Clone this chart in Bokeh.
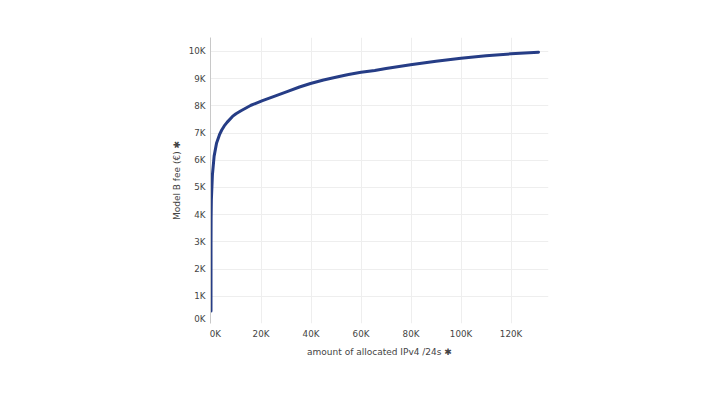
from bokeh.plotting import figure
from bokeh.models import FixedTicker, Range1d
from bokeh.embed import file_html
from bokeh.resources import INLINE

# amount of allocated IPv4 /24s
allocated = [1, 10, 50, 150, 560, 1250, 2200, 3400, 4300, 5300, 6500, 8600,
             10000, 12000, 16000, 20600, 25000, 30700, 35400, 39800, 45000,
             50800, 55000, 60000, 65500, 70000, 79800, 90000, 100000, 110000,
             120000, 131000]
# Model B fee in EUR
fee = [460, 2900, 3900, 4550, 5450, 6150, 6620, 6940, 7110, 7260, 7400, 7610,
       7710, 7820, 8020, 8190, 8340, 8530, 8690, 8820, 8950,
       9070, 9150, 9230, 9300, 9370, 9510, 9640, 9750, 9840,
       9910, 9970]

x_ticks = [0, 20000, 40000, 60000, 80000, 100000, 120000]
x_labels = ["0K", "20K", "40K", "60K", "80K", "100K", "120K"]
y_ticks = [1000, 2000, 3000, 4000, 5000, 6000, 7000, 8000, 9000, 10000]
y_labels = ["1K", "2K", "3K", "4K", "5K", "6K", "7K", "8K", "9K", "10K"]
x_zero_label_value = 1700
y_zero_label_value = 180
zero_label = "0K"

p = figure(width=704, height=389, output_backend="svg", toolbar_location=None,
           x_range=Range1d(-200, 135000), y_range=Range1d(0, 10510),
           min_border_left=210, min_border_right=156, min_border_top=37,
           min_border_bottom=66)
p.outline_line_color = None
p.background_fill_color = "white"
p.border_fill_color = "white"

p.line(allocated, fee, line_color="#263d86", line_width=3,
       line_join="round", line_cap="round")

font = "DejaVu Sans"
# x axis
p.xaxis.ticker = FixedTicker(ticks=[x_zero_label_value] + x_ticks[1:])
xovr = {t: l for t, l in zip(x_ticks, x_labels)}
xovr[x_zero_label_value] = zero_label
p.xaxis.major_label_overrides = xovr
p.xaxis.axis_line_color = None
p.xaxis.major_label_standoff = 5
p.xaxis.axis_label = "amount of allocated IPv4 /24s \u2731"
p.xaxis.axis_label_standoff = 5
# y axis
p.yaxis.ticker = FixedTicker(ticks=[y_zero_label_value] + y_ticks)
ovr = {t: l for t, l in zip(y_ticks, y_labels)}
ovr[y_zero_label_value] = zero_label
p.yaxis.major_label_overrides = ovr
p.yaxis.axis_line_color = "#c8c8c8"
p.yaxis.axis_line_width = 1
p.yaxis.major_label_standoff = 5
p.yaxis.axis_label = "Model B fee (\u20ac) \u2731"
p.yaxis.axis_label_standoff = 4

for ax in (p.xaxis, p.yaxis):
    ax.major_tick_line_color = None
    ax.minor_tick_line_color = None
    ax.major_tick_out = 0
    ax.major_tick_in = 0
    ax.minor_tick_out = 0
    ax.minor_tick_in = 0
    ax.major_label_text_font = font
    ax.major_label_text_font_size = "8.7px"
    ax.major_label_text_color = "#444444"
    ax.axis_label_text_font = font
    ax.axis_label_text_font_size = "9px"
    ax.axis_label_text_font_style = "normal"
    ax.axis_label_text_color = "#444444"

p.xgrid.ticker = FixedTicker(ticks=x_ticks[1:])
p.ygrid.ticker = FixedTicker(ticks=y_ticks)
p.xgrid.grid_line_color = "#eeeeee"
p.ygrid.grid_line_color = "#eeeeee"

open("out.html", "w").write(file_html(p, INLINE))
